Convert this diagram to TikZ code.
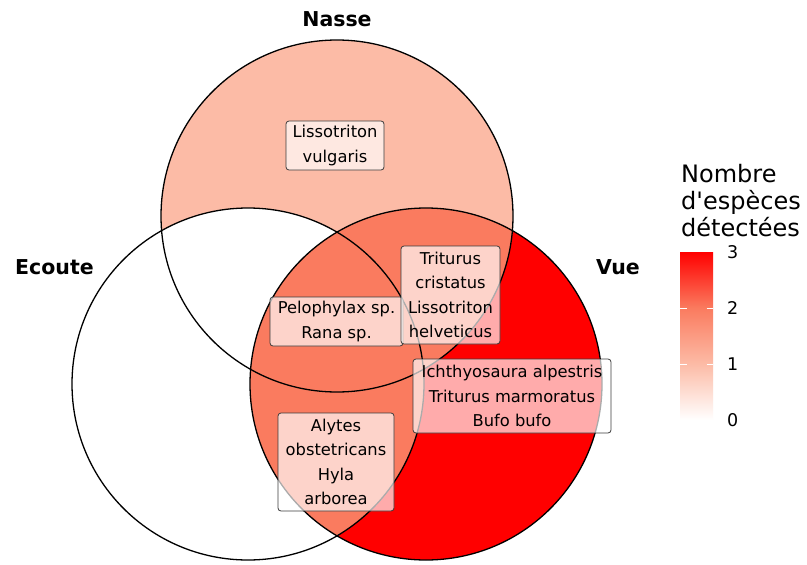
\documentclass[tikz,border=0pt]{standalone}
\usepackage{fontspec}
\setmainfont{DejaVu Sans}
\definecolor{cA}{RGB}{252,187,166}
\definecolor{cB}{RGB}{250,123,95}
\definecolor{cC}{RGB}{255,0,0}
\definecolor{boxline}{RGB}{60,60,60}
\pgfdeclareverticalshading{legendbar}{100bp}{color(0bp)=(white); color(25bp)=(white); color(41.6667bp)=(cA); color(58.3333bp)=(cB); color(75bp)=(cC); color(100bp)=(cC)}
\begin{document}
\begin{tikzpicture}[x=1pt,y=-1pt,
  outline/.style={draw=black, line width=1.3pt},
  spec/.style={draw=boxline, line width=0.8pt, rounded corners=3pt, fill=white,
    fill opacity=0.67, text opacity=1, draw opacity=1, inner sep=0pt, align=center,
    font=\fontsize{16.3}{24.5}\selectfont},
  setlabel/.style={font=\bfseries\fontsize{20.5}{24}\selectfont, anchor=base, inner sep=0pt},
  ticklab/.style={font=\fontsize{17.5}{20}\selectfont, anchor=west, inner sep=0pt},
  tickmark/.style={draw=white, line width=0.8pt}]
\useasboundingbox[fill=white] (0,0) rectangle (807,565);
% centres
\coordinate (N) at (337,216);
\coordinate (E) at (248,384);
\coordinate (V) at (426,384);
% fills
\fill[cA] (N) circle[radius=176pt];
\fill[white] (E) circle[radius=176pt];
\fill[cC] (V) circle[radius=176pt];
\begin{scope}
  \clip (V) circle[radius=176pt];
  \fill[cB] (N) circle[radius=176pt];
  \fill[cB] (E) circle[radius=176pt];
\end{scope}
% outlines
\draw[outline] (N) circle[radius=176pt];
\draw[outline] (E) circle[radius=176pt];
\draw[outline] (V) circle[radius=176pt];
% set labels
\node[setlabel] (tN) at (337,26) {Nasse};
\node[setlabel] (tE) at (54.5,274) {Ecoute};
\node[setlabel] (tV) at (618,274) {Vue};
% species labels
\node[spec, minimum width=98pt, minimum height=49pt] (l1) at (335,145.5) {Lissotriton\\vulgaris};
\node[spec, minimum width=133pt, minimum height=49pt] (l2) at (336.5,321.5) {Pelophylax sp.\\Rana sp.};
\node[spec, minimum width=99pt, minimum height=98pt] (l3) at (450.5,295) {Triturus\\cristatus\\Lissotriton\\helveticus};
\node[spec, minimum width=198pt, minimum height=74pt] (l4) at (512,396) {Ichthyosaura alpestris\\Triturus marmoratus\\Bufo bufo};
\node[spec, minimum width=116pt, minimum height=98pt] (l5) at (336,462) {Alytes\\obstetricans\\Hyla\\arborea};
% legend
\node[anchor=north west, inner sep=0pt, align=left, font=\fontsize{24}{27}\selectfont] (lt) at (681,164) {Nombre\\d\textquotesingle espèces\\détectées};
\shade[shading=legendbar] (680,252) rectangle (713,420);
\draw[tickmark] (680,308) -- (686.5,308);
\draw[tickmark] (706.5,308) -- (713,308);
\draw[tickmark] (680,364) -- (686.5,364);
\draw[tickmark] (706.5,364) -- (713,364);
\node[ticklab] (k3) at (727,252) {3};
\node[ticklab] (k2) at (727,308) {2};
\node[ticklab] (k1) at (727,364) {1};
\node[ticklab] (k0) at (727,420) {0};
\end{tikzpicture}
\end{document}
